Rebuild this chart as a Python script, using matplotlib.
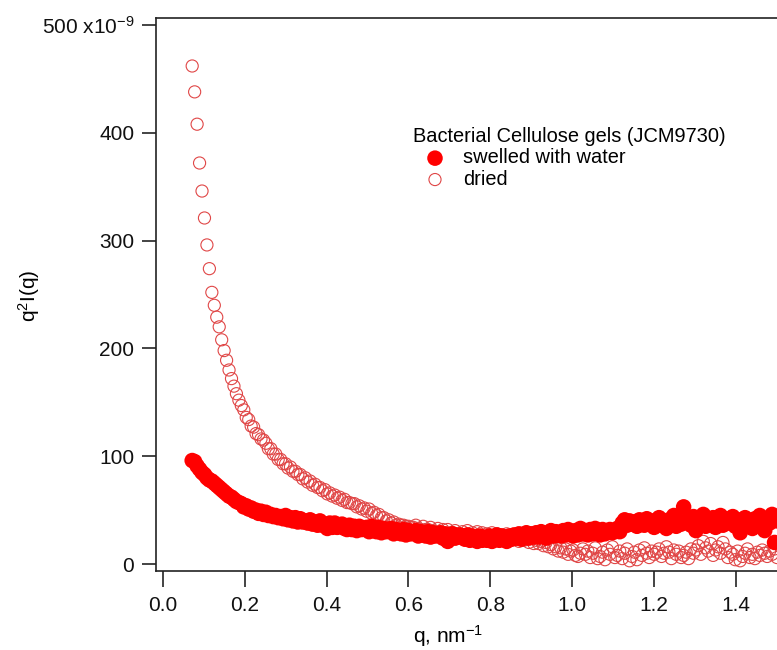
import numpy as np
import matplotlib
matplotlib.use("Agg")
import matplotlib.pyplot as plt

plt.rcParams['font.family'] = ['Liberation Sans', 'DejaVu Sans']
plt.rcParams['mathtext.default'] = 'regular'

# q grid (nm^-1), shared by both series
q = [0.072, 0.078, 0.084, 0.090, 0.096, 0.102, 0.108, 0.114, 0.120, 0.126,
     0.132, 0.138, 0.144, 0.150, 0.156, 0.162, 0.168, 0.174, 0.180, 0.186,
     0.192, 0.198, 0.204, 0.210, 0.216, 0.222, 0.228, 0.234, 0.240, 0.246,
     0.252, 0.258, 0.264, 0.270, 0.276, 0.282, 0.288, 0.294, 0.300, 0.306,
     0.312, 0.318, 0.324, 0.330, 0.336, 0.342, 0.348, 0.354, 0.360, 0.366,
     0.372, 0.378, 0.384, 0.390, 0.396, 0.402, 0.408, 0.414, 0.420, 0.426,
     0.432, 0.438, 0.444, 0.450, 0.456, 0.462, 0.468, 0.474, 0.480, 0.486,
     0.492, 0.498, 0.504, 0.510, 0.516, 0.522, 0.528, 0.534, 0.540, 0.546,
     0.552, 0.558, 0.564, 0.570, 0.576, 0.582, 0.588, 0.594, 0.600, 0.606,
     0.612, 0.618, 0.624, 0.630, 0.636, 0.642, 0.648, 0.654, 0.660, 0.666,
     0.672, 0.678, 0.684, 0.690, 0.696, 0.702, 0.708, 0.714, 0.720, 0.726,
     0.732, 0.738, 0.744, 0.750, 0.756, 0.762, 0.768, 0.774, 0.780, 0.786,
     0.792, 0.798, 0.804, 0.810, 0.816, 0.822, 0.828, 0.834, 0.840, 0.846,
     0.852, 0.858, 0.864, 0.870, 0.876, 0.882, 0.888, 0.894, 0.900, 0.906,
     0.912, 0.918, 0.924, 0.930, 0.936, 0.942, 0.948, 0.954, 0.960, 0.966,
     0.972, 0.978, 0.984, 0.990, 0.996, 1.002, 1.008, 1.014, 1.020, 1.026,
     1.032, 1.038, 1.044, 1.050, 1.056, 1.062, 1.068, 1.074, 1.080, 1.086,
     1.092, 1.098, 1.104, 1.110, 1.116, 1.122, 1.128, 1.134, 1.140, 1.146,
     1.152, 1.158, 1.164, 1.170, 1.176, 1.182, 1.188, 1.194, 1.200, 1.206,
     1.212, 1.218, 1.224, 1.230, 1.236, 1.242, 1.248, 1.254, 1.260, 1.266,
     1.272, 1.278, 1.284, 1.290, 1.296, 1.302, 1.308, 1.314, 1.320, 1.326,
     1.332, 1.338, 1.344, 1.350, 1.356, 1.362, 1.368, 1.374, 1.380, 1.386,
     1.392, 1.398, 1.404, 1.410, 1.416, 1.422, 1.428, 1.434, 1.440, 1.446,
     1.452, 1.458, 1.464, 1.470, 1.476, 1.482, 1.488, 1.494, 1.500]

# q^2 I(q), units of 1e-9
dried = [462, 438, 408, 372, 346, 321, 296, 274, 252, 240,
         229, 220, 208, 198, 189, 180, 172, 165, 158, 152,
         147, 143, 136, 134, 128, 127, 121, 120, 116, 115,
         112, 107, 107, 102, 102, 97, 97, 93, 93, 89,
         90, 86, 86, 83, 83, 79, 80, 76, 77, 73,
         74, 71, 71, 68, 69, 65, 66, 63, 64, 61,
         62, 59, 60, 57, 57, 56, 56, 53, 54, 51,
         52, 49, 51, 47, 48, 45, 46, 43, 43, 40,
         41, 38, 39, 36, 37, 36, 36, 35, 35, 34,
         34, 36, 33, 32, 35, 32, 32, 34, 31, 30,
         33, 29, 32, 28, 32, 29, 29, 31, 28, 27,
         30, 27, 31, 26, 29, 25, 30, 26, 29, 24,
         28, 25, 29, 24, 28, 23, 27, 24, 28, 22,
         26, 23, 27, 21, 26, 22, 25, 20, 24, 19,
         22, 19, 21, 17, 20, 16, 18, 14, 16, 12,
         15, 11, 14, 9, 12, 13, 8, 7, 10, 14,
         9, 12, 6, 10, 15, 5, 7, 11, 4, 13,
         9, 16, 6, 8, 12, 5, 10, 14, 3, 7,
         11, 4, 13, 8, 15, 10, 6, 12, 9, 11,
         14, 7, 10, 16, 11, 5, 13, 9, 12, 6,
         8, 11, 5, 14, 10, 13, 17, 9, 21, 15,
         12, 19, 8, 13, 16, 10, 20, 14, 6, 11,
         9, 4, 12, 3, 7, 10, 14, 6, 9, 5,
         11, 8, 13, 10, 7, 12, 9, 14, 6]

swelled = [96, 95, 91, 88, 85, 83, 80, 78, 77, 75,
           73, 71, 69, 67, 65, 63, 62, 60, 58, 57,
           56, 53, 54, 51, 52, 49, 50, 47, 49, 46,
           48, 45, 46, 44, 45, 43, 44, 42, 45, 41,
           43, 40, 43, 39, 42, 39, 40, 38, 41, 37,
           39, 36, 40, 36, 37, 33, 38, 34, 38, 34,
           35, 37, 33, 32, 36, 32, 35, 31, 35, 32,
           33, 34, 30, 35, 31, 30, 34, 29, 33, 30,
           31, 33, 28, 32, 29, 28, 32, 27, 31, 28,
           29, 31, 26, 30, 27, 26, 30, 25, 29, 26,
           27, 29, 24, 28, 21, 27, 28, 24, 25, 27,
           26, 23, 27, 22, 26, 23, 21, 26, 22, 25,
           22, 26, 21, 25, 27, 22, 26, 23, 21, 26,
           23, 27, 24, 28, 23, 27, 29, 24, 28, 25,
           29, 25, 30, 26, 24, 29, 31, 26, 30, 27,
           26, 31, 27, 32, 28, 26, 31, 27, 33, 28,
           31, 27, 32, 28, 33, 29, 27, 32, 28, 31,
           32, 29, 31, 33, 30, 38, 41, 36, 40, 37,
           39, 35, 41, 38, 36, 42, 37, 40, 34, 39,
           43, 36, 39, 33, 41, 38, 45, 35, 40, 37,
           53, 39, 42, 36, 44, 31, 40, 38, 46, 35,
           41, 37, 43, 34, 39, 45, 36, 42, 38, 40,
           44, 35, 41, 29, 38, 43, 36, 40, 33, 42,
           37, 45, 39, 31, 42, 38, 46, 20, 40]

yticks = [0, 100, 200, 300, 400, 500]
ytick_labels = ['0', '100', '200', '300', '400', '500 x10$^{-9}$']
xticks = [0.0, 0.2, 0.4, 0.6, 0.8, 1.0, 1.2, 1.4]
xtick_labels = ['0.0', '0.2', '0.4', '0.6', '0.8', '1.0', '1.2', '1.4']

W, H = 777, 650
fig = plt.figure(figsize=(W / 100, H / 100), dpi=100)
ax = fig.add_axes([155.7 / W, (H - 570.7) / H, 1 - 155.7 / W, (570.7 - 17.7) / H])

ax.scatter(q, dried, s=76, facecolors='none', edgecolors='#e04646', linewidths=0.8,
           label='dried', zorder=2)
ax.scatter(q, swelled, s=125, color='#ff0000', edgecolors='none',
           label='swelled with water', zorder=3)

ax.set_xlim(-0.0171, 1.5)
ax.set_ylim(-6.2, 506.8)

ax.set_xticks(xticks)
ax.set_xticklabels(xtick_labels)
ax.set_yticks(yticks)
ax.set_yticklabels(ytick_labels)

for side in ['left', 'bottom', 'top']:
    ax.spines[side].set_linewidth(1.2)
    ax.spines[side].set_color('#222222')
ax.spines['right'].set_visible(False)

ax.tick_params(axis='y', length=10, width=1.1, pad=5.5, labelsize=15, colors='#111111')
ax.tick_params(axis='x', length=11.5, width=1.1, pad=7, labelsize=15, colors='#111111')

ax.set_ylabel('q$^2$I(q)', fontsize=15)
ax.yaxis.set_label_coords(42 / W, (H - 296) / H, transform=fig.transFigure)
ax.set_xlabel('q, nm$^{-1}$', fontsize=15)
ax.xaxis.set_label_coords(448 / W, (H - 623) / H, transform=fig.transFigure)

handles, labels = ax.get_legend_handles_labels()
leg = ax.legend(handles[::-1], labels[::-1], title='Bacterial Cellulose gels (JCM9730)',
                loc='upper left', bbox_to_anchor=(403 / W, (H - 117) / H),
                bbox_transform=fig.transFigure, frameon=False, fontsize=14.4,
                title_fontsize=14.4, alignment='left', handlelength=2.2,
                handletextpad=0.3, labelspacing=0.12, borderpad=0.0,
                scatterpoints=1)

fig.savefig('out.png', dpi=100)
